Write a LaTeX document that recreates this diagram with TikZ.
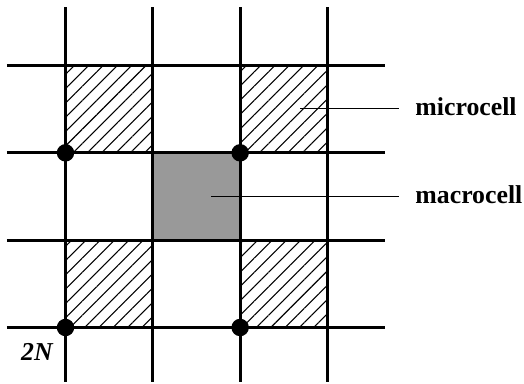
\documentclass[tikz,border=0pt]{standalone}
\usepackage{fontspec}
\setmainfont{Liberation Serif}
\usetikzlibrary{patterns.meta}
\tikzset{
  gridline/.style={line width=1pt},
  hatchcell/.style={pattern={Lines[angle=45,distance=3.3pt,line width=0.35pt]}},
  macrofill/.style={fill=black!40},
  site/.style={circle,fill=black,inner sep=0pt,minimum size=0.2cm},
  lbl/.style={font=\fontsize{8.4}{10}\selectfont\bfseries,anchor=mid west,inner sep=0.18cm},
}
\begin{document}
\begin{tikzpicture}
  \useasboundingbox (-0.75,-0.64) rectangle (5.25,3.75);

  % Microcells
  \foreach \x/\y in {0/0,2/0,0/2,2/2}
    \fill[hatchcell] (\x,\y) rectangle ++(1,1);

  % Macrocell
  \fill[macrofill] (1,1) rectangle (2,2);

  % Grid
  \foreach \i in {0,1,2,3} {
    \draw[gridline] (\i,-0.62) -- (\i,3.67);
    \draw[gridline] (-0.67,\i) -- (3.66,\i);
  }

  % Sites
  \foreach \x/\y [count=\k] in {0/0,2/0,0/2,2/2}
    \node[site] (s\k) at (\x,\y) {};

  % Labels
  \coordinate (microend) at (2.69,2.51);
  \node[lbl] (microlbl) at (3.82,2.51) {microcell};
  \draw[line width=0.4pt] (microend) -- (microlbl.mid west);

  \coordinate (macroend) at (1.67,1.50);
  \node[lbl] (macrolbl) at (3.82,1.50) {macrocell};
  \draw[line width=0.4pt] (macroend) -- (macrolbl.mid west);

  \node[font=\fontsize{8.4}{10}\selectfont\bfseries\itshape,anchor=north east,inner sep=0pt] (size) at (-0.14,-0.18) {2N};
\end{tikzpicture}
\end{document}
